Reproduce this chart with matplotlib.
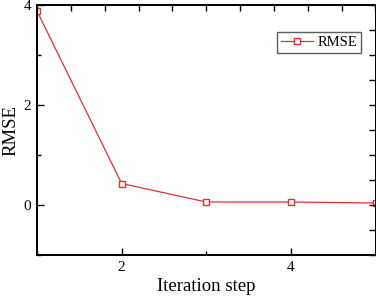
import matplotlib
matplotlib.use("Agg")
import matplotlib.pyplot as plt
from matplotlib.ticker import MultipleLocator, NullFormatter
import numpy as np

# Data
steps = [1, 2, 3, 4, 5]
rmse = [3.88, 0.43, 0.06, 0.06, 0.04]
series_label = "RMSE"
x_label = "Iteration step"
y_label = "RMSE"

plt.rcParams['font.family'] = ['Liberation Serif', 'DejaVu Serif']

W, H = 376, 301
fig = plt.figure(figsize=(W / 100, H / 100), dpi=100)
left_px, right_px, top_px, bottom_px = 37, 375.5, 5, 255
ax = fig.add_axes([left_px / W, 1 - bottom_px / H,
                   (right_px - left_px) / W, (bottom_px - top_px) / H])

red = '#e62e36'
ax.plot(steps, rmse, color=red, lw=0.9, marker='s', markersize=5,
        markerfacecolor='white', markeredgecolor=red, markeredgewidth=1.0,
        label=series_label)

ax.set_xlim(1, 5)
ax.set_ylim(-1, 4)
ax.xaxis.set_major_locator(MultipleLocator(2))
ax.xaxis.set_minor_locator(MultipleLocator(1))
ax.yaxis.set_major_locator(MultipleLocator(2))
ax.yaxis.set_minor_locator(MultipleLocator(1))
ax.tick_params(which='major', direction='in', length=5, width=1, labelsize=11, pad=4)
ax.tick_params(which='minor', direction='in', length=3, width=1)
ax.tick_params(axis='x', which='both', top=False)
ax.tick_params(axis='y', which='both', right=False)
for s in ax.spines.values():
    s.set_linewidth(1.2)

ax.set_xlabel(x_label, fontsize=13.5, labelpad=3)
ax.set_ylabel(y_label, fontsize=13.5, labelpad=0)
ax.yaxis.set_label_coords(-0.053, 0.5)

# top and right tick marks (secondary scales, unlabeled)
axt = ax.twiny()
axt.set_xlim(1, 5)
axt.set_xticks(np.arange(1, 5.01, 0.4))
axt.xaxis.set_major_formatter(NullFormatter())
axt.tick_params(axis='x', direction='in', length=4, width=1)
axr = ax.twinx()
axr.set_ylim(-1, 4)
axr.yaxis.set_major_locator(MultipleLocator(0.5))
axr.yaxis.set_major_formatter(NullFormatter())
axr.tick_params(axis='y', direction='in', length=5, width=1)
for a in (axt, axr):
    for s in a.spines.values():
        s.set_linewidth(1.2)

leg = ax.legend(loc='upper right', bbox_to_anchor=(0.957, 0.892), fontsize=10.5,
                frameon=True, fancybox=False, edgecolor='#333333',
                handlelength=2.2, borderpad=0.25, handletextpad=0.3,
                borderaxespad=0)
leg.get_frame().set_linewidth(1.0)

fig.savefig("out.png", dpi=100)
